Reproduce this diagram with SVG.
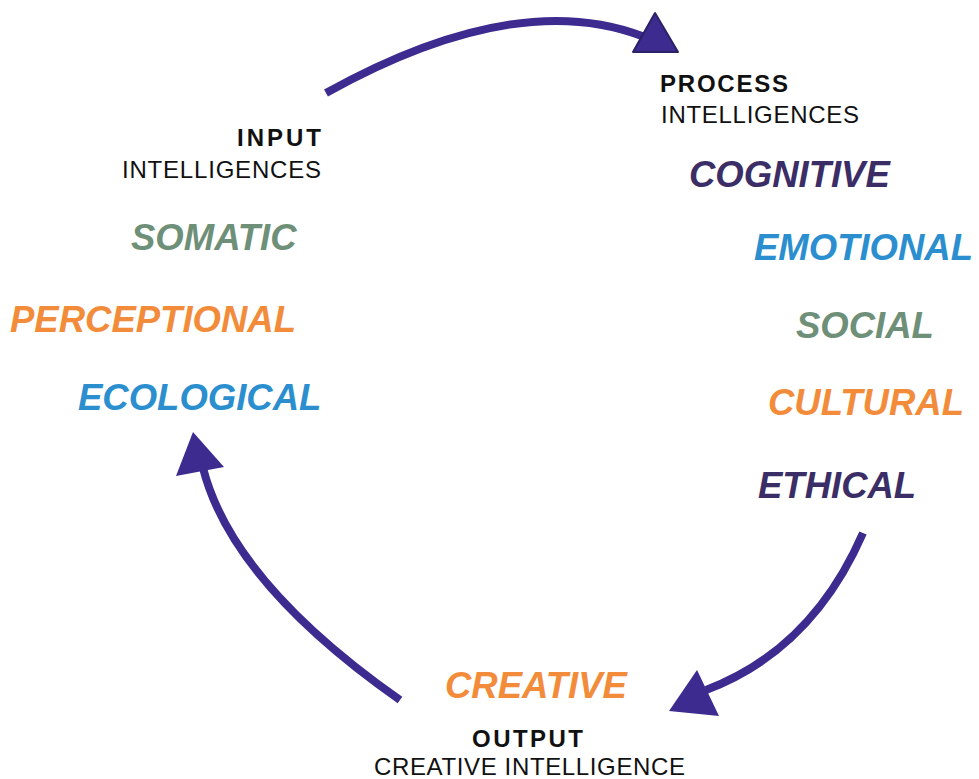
<svg xmlns="http://www.w3.org/2000/svg" width="979" height="779" viewBox="0 0 979 779">
<style>
.lbl{font-family:"Liberation Sans",Arial,sans-serif;font-size:24px;fill:#111}
.b{font-weight:bold}
.it{font-family:"Liberation Sans",Arial,sans-serif;font-size:36.5px;font-weight:bold;font-style:italic}
.green{fill:#6e8f78}.orange{fill:#f28c3b}.blue{fill:#2b8fcf}.dark{fill:#3b2d66}
.arc{fill:none;stroke:#3e2b8f;stroke-width:8}
.head{fill:#3e2b8f}
</style>
<rect width="979" height="779" fill="#fff"/>
<g id="connectors">
<path class="arc" d="M326,93 Q515,-12 642,36"/>
<polygon class="head" points="633,52 678,52 655,13" stroke="#2b2166" stroke-width="2" stroke-linejoin="round"/>
<path class="arc" d="M863,533 Q812,650 706,690"/>
<polygon class="head" points="669,711 697,670 719,716"/>
<path class="arc" d="M400,700 Q232,582 203,468"/>
<polygon class="head" points="193,432 176,476 224,467"/>
</g>
<g id="input">
<text class="lbl b" x="237" y="146" textLength="84" lengthAdjust="spacing">INPUT</text>
<text class="lbl" x="122" y="178" textLength="199" lengthAdjust="spacing">INTELLIGENCES</text>
</g>
<g id="somatic"><text class="it green" x="131" y="250">SOMATIC</text></g>
<g id="perceptional"><text class="it orange" x="10" y="332">PERCEPTIONAL</text></g>
<g id="ecological"><text class="it blue" x="78" y="410">ECOLOGICAL</text></g>
<g id="process">
<text class="lbl b" x="660" y="92" textLength="128" lengthAdjust="spacing">PROCESS</text>
<text class="lbl" x="661" y="123" textLength="198" lengthAdjust="spacing">INTELLIGENCES</text>
</g>
<g id="cognitive"><text class="it dark" x="689" y="187">COGNITIVE</text></g>
<g id="emotional"><text class="it blue" x="754" y="260">EMOTIONAL</text></g>
<g id="social"><text class="it green" x="796" y="338">SOCIAL</text></g>
<g id="cultural"><text class="it orange" x="768" y="415">CULTURAL</text></g>
<g id="ethical"><text class="it dark" x="758" y="498">ETHICAL</text></g>
<g id="creative"><text class="it orange" x="445" y="698">CREATIVE</text></g>
<g id="output">
<text class="lbl b" x="472" y="747" textLength="111" lengthAdjust="spacing">OUTPUT</text>
<text class="lbl" x="374" y="775" textLength="311" lengthAdjust="spacing">CREATIVE INTELLIGENCE</text>
</g>
</svg>
